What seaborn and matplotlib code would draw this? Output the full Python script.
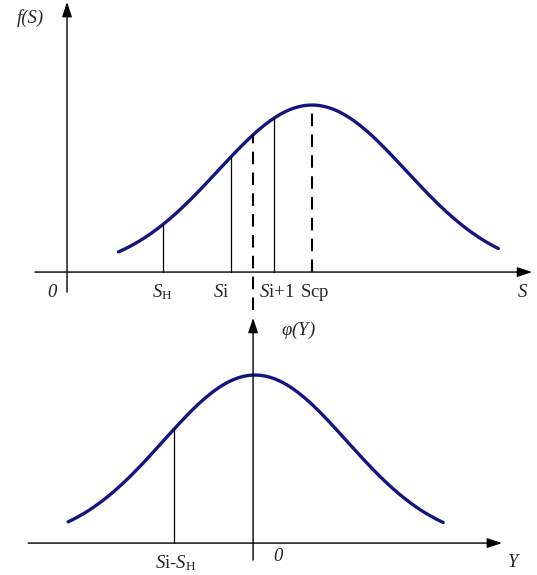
import numpy as np
import pandas as pd
import matplotlib
matplotlib.use("Agg")
import matplotlib.pyplot as plt
import seaborn as sns

# top panel: f(S), normal-shaped density
s_mean = 10.0
s_sigma = 3.84
s_range = [2.1, 17.6]
s_marks = [3.9, 6.7, 8.45]          # S_H, S_i, S_i+1
s_mid = 7.6                          # dashed line linking to phi(Y)
s_labels = [r"$\mathit{S}_{\mathrm{H}}$", r"$\mathit{S}\mathrm{i}$",
            r"$\mathit{S}\mathrm{i{+}1}$", r"$\mathrm{Scp}$"]

# bottom panel: phi(Y)
y_mean = 0.08
y_sigma = 3.75
y_range = [-7.55, 7.76]
y_mark = -3.22                       # S_i - S_H

curve_color = "#15157f"

sns.set_style("white")
plt.rcParams["font.family"] = ["Liberation Serif", "DejaVu Serif"]
plt.rcParams["mathtext.fontset"] = "custom"
plt.rcParams["mathtext.rm"] = "Liberation Serif"
plt.rcParams["mathtext.it"] = "Liberation Serif:italic"

fig = plt.figure(figsize=(5.37, 5.75), dpi=100)
ax1 = fig.add_axes([0, 0, 1, 1])
ax2 = fig.add_axes([0, 0, 1, 1])
for ax in (ax1, ax2):
    ax.set_axis_off()
    ax.patch.set_alpha(0)

def bell(x, mu, sig):
    return np.exp(-(x - mu) ** 2 / (2 * sig ** 2))

arrow = dict(arrowstyle="-|>,head_length=0.9,head_width=0.3", color="black",
             lw=1.0, shrinkA=0, shrinkB=0)
fs = 13.5
dash = (0, (6, 4))

# ---- top ----
ax1.set_xlim(-2.735, 19.18)
ax1.set_ylim(-1.814, 1.629)
xs = np.linspace(s_range[0], s_range[1], 300)
top = pd.DataFrame({"S": xs, "f": bell(xs, s_mean, s_sigma)})
sns.lineplot(data=top, x="S", y="f", ax=ax1, color=curve_color, lw=2.4)
ax1.annotate("", xy=(0, 1.617), xytext=(0, -0.12), arrowprops=arrow)
ax1.annotate("", xy=(18.98, 0), xytext=(-1.31, 0), arrowprops=arrow)
for s in s_marks:
    ax1.plot([s, s], [0, bell(s, s_mean, s_sigma)], color="black", lw=0.9)
ax1.plot([s_mean, s_mean], [0, 1], color="black", lw=1.5, ls=dash)
ax1.plot([s_mid, s_mid], [-0.228, bell(s_mid, s_mean, s_sigma)], color="black",
         lw=1.5, ls=dash)
ax1.text(-1.5, 1.52, "f(S)", fontsize=fs, style="italic", ha="center", va="center")
ax1.text(-0.61, -0.12, "0", fontsize=fs, style="italic", ha="center", va="center")
ax1.text(18.6, -0.12, "S", fontsize=fs, style="italic", ha="center", va="center")
lab_x = [3.9, 6.3, 7.85, 10.1]
lab_ha = ["center", "center", "left", "center"]
for x, t, h in zip(lab_x, s_labels, lab_ha):
    ax1.text(x, -0.12, t, fontsize=fs, ha=h, va="center")

# ---- bottom ----
ax2.set_xlim(-10.33, 11.59)
ax2.set_ylim(-0.190, 3.232)
ys = np.linspace(y_range[0], y_range[1], 300)
bot = pd.DataFrame({"Y": ys, "phi": bell(ys, y_mean, y_sigma)})
sns.lineplot(data=bot, x="Y", y="phi", ax=ax2, color=curve_color, lw=2.4)
ax2.annotate("", xy=(0, 1.34), xytext=(0, -0.101), arrowprops=arrow)
ax2.annotate("", xy=(10.16, 0), xytext=(-9.18, 0), arrowprops=arrow)
ax2.plot([y_mark, y_mark], [0, bell(y_mark, y_mean, y_sigma)], color="black", lw=0.9)
ax2.text(1.84, 1.268, r"$\varphi$(Y)", fontsize=fs, style="italic", ha="center", va="center")
ax2.text(1.02, -0.077, "0", fontsize=fs, style="italic", ha="center", va="center")
ax2.text(10.6, -0.113, "Y", fontsize=fs, style="italic", ha="center", va="center")
ax2.text(-3.14, -0.119, r"$\mathit{S}\mathrm{i}$-$\mathit{S}_{\mathrm{H}}$", fontsize=fs,
         ha="center", va="center")

fig.savefig("out.png", dpi=100, facecolor="white")
